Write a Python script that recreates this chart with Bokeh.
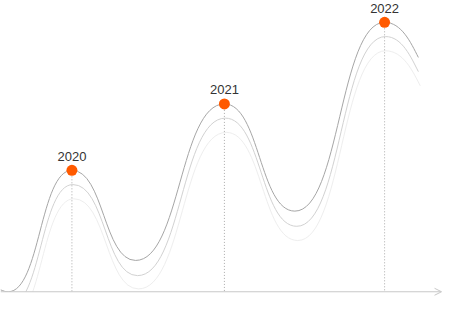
import numpy as np
from bokeh.plotting import figure
from bokeh.models import Range1d, Arrow, OpenHead, ColumnDataSource
from bokeh.core.properties import value
from bokeh.embed import file_html
from bokeh.resources import INLINE

# --- data -------------------------------------------------------------
years = ["2020", "2021", "2022"]
peak_x = [74, 232, 398]
peak_y = [128, 198, 284]

# key points of each wave (position, height above baseline)
s1_x = [0, 8, 74, 140, 232, 305, 398, 433]
s1_y = [2, 0, 128, 33, 198, 85, 284, 247]
s2_x = [1, 9, 75, 142, 233, 307, 399, 433]
s2_y = [-13, -15, 113, 17, 183, 69, 269, 232]
s3_x = [2, 10, 76, 143, 234, 308, 399, 435]
s3_y = [-28, -30, 98, 3, 168, 54, 254, 217]
# tangent slope of the wave at each key point
slopes = [-0.3, 0, 0, 0, 0, 0, 0, -2]


def bezier_source(xs, ys, sl, k=0.5):
    xs = np.asarray(xs, dtype=float)
    ys = np.asarray(ys, dtype=float)
    sl = np.asarray(sl, dtype=float)
    dx = np.diff(xs)
    h0 = k * dx / np.sqrt(1 + sl[:-1] ** 2)
    h1 = k * dx / np.sqrt(1 + sl[1:] ** 2)
    return ColumnDataSource(dict(
        x0=xs[:-1], y0=ys[:-1], x1=xs[1:], y1=ys[1:],
        cx0=xs[:-1] + h0, cy0=ys[:-1] + h0 * sl[:-1],
        cx1=xs[1:] - h1, cy1=ys[1:] - h1 * sl[1:],
    ))


p = figure(width=442, height=296, x_range=Range1d(0, 458), y_range=Range1d(-5, 307),
           output_backend="svg", toolbar_location=None, min_border=0,
           x_axis_location=None, y_axis_location=None)
p.grid.visible = False
p.outline_line_color = None
p.background_fill_color = "white"
p.border_fill_color = "white"

series = [(s3_x, s3_y, "#eeeeee"), (s2_x, s2_y, "#d2d2d2"), (s1_x, s1_y, "#a6a6a6")]
for xs, ys, col in series:
    src = bezier_source(xs, ys, slopes)
    p.bezier(x0="x0", y0="y0", x1="x1", y1="y1", cx0="cx0", cy0="cy0",
             cx1="cx1", cy1="cy1", source=src, line_color=col, line_width=1)

# hide anything below the baseline
p.quad(left=-10, right=470, bottom=-20, top=0, fill_color="white", line_color=None)

p.segment(x0=peak_x, y0=peak_y, x1=peak_x, y1=[0] * len(peak_x),
          line_color="#aaaaaa", line_dash="1 2", line_width=1)

p.scatter(x=peak_x, y=peak_y, size=11, fill_color="#ff5a00", line_color=None)

p.text(x=peak_x, y=peak_y, text=years, text_align="center", text_baseline="alphabetic",
       y_offset=-14, text_font=value("Liberation Sans"), text_font_size="13px",
       text_color="#333333")

p.add_layout(Arrow(end=OpenHead(size=7, line_color="#c8c8c8", line_width=1),
                   x_start=0, y_start=0, x_end=457, y_end=0,
                   line_color="#c8c8c8", line_width=1))

open("out.html", "w").write(file_html(p, INLINE))
